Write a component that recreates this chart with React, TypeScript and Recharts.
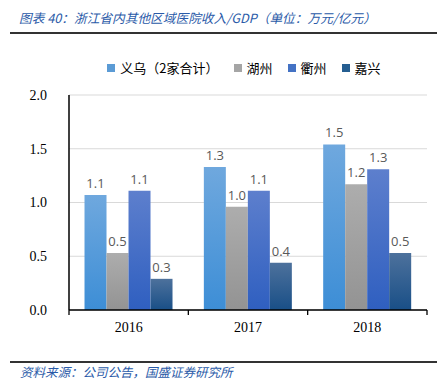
import React from 'react';
import { BarChart, Bar, XAxis, YAxis, CartesianGrid, Legend, LabelList } from 'recharts';

const years = ['2016', '2017', '2018'];
const yiwu = [1.07, 1.33, 1.54];
const huzhou = [0.53, 0.96, 1.17];
const quzhou = [1.11, 1.11, 1.31];
const jiaxing = [0.29, 0.44, 0.53];
const yTicks = [0, 0.5, 1.0, 1.5, 2.0];

const series = [
  { key: 'yiwu', name: '义乌（2家合计）', top: '#6fa8de', bottom: '#3d8ed6', swatch: '#5b9bd5' },
  { key: 'huzhou', name: '湖州', top: '#adadad', bottom: '#939393', swatch: '#a5a5a5' },
  { key: 'quzhou', name: '衢州', top: '#5d7fcd', bottom: '#2f5fc0', swatch: '#4472c4' },
  { key: 'jiaxing', name: '嘉兴', top: '#4d719c', bottom: '#194f87', swatch: '#255e91' },
];

const data = years.map((y, i) => ({
  year: y,
  yiwu: yiwu[i],
  huzhou: huzhou[i],
  quzhou: quzhou[i],
  jiaxing: jiaxing[i],
}));

const PLOT_LEFT = 69;
const PLOT_RIGHT = 427;
const BAND = (PLOT_RIGHT - PLOT_LEFT) / years.length;

const XTick = (props: any) => {
  const { x, y, payload, index } = props;
  return (
    <g>
      <line x1={x - BAND / 2} y1={y - 8} x2={x - BAND / 2} y2={y - 3} stroke="#000" strokeWidth={1.3} />
      {index === years.length - 1 && (
        <line x1={x + BAND / 2} y1={y - 8} x2={x + BAND / 2} y2={y - 3} stroke="#000" strokeWidth={1.3} />
      )}
      <text x={x} y={y + 14} textAnchor="middle" fontFamily="'Liberation Serif', serif" fontSize={14} fill="#000">
        {payload.value}
      </text>
    </g>
  );
};

const LegendContent = () => (
  <div style={{ display: 'flex', justifyContent: 'center', gap: 15, paddingLeft: 46, fontFamily: "'Noto Sans CJK SC', sans-serif", fontSize: 13, color: '#000' }}>
    {series.map(s => (
      <div key={s.key} style={{ display: 'flex', alignItems: 'center', gap: 5 }}>
        <div style={{ width: 8, height: 8, background: s.swatch }} />
        <span>{s.name}</span>
      </div>
    ))}
  </div>
);

const fmt = (v: any) => Number(v).toFixed(1);

export default function App() {
  return (
    <div style={{ position: 'absolute', left: 0, top: 0, width: 442, height: 385, background: '#fff' }}>
      <div style={{ position: 'absolute', left: 19, top: 8, fontFamily: "'Noto Sans CJK SC', sans-serif", fontStyle: 'italic', fontSize: 12.7, color: '#2a5aa8', whiteSpace: 'nowrap' }}>
        图表 40：浙江省内其他区域医院收入/GDP（单位：万元/亿元）
      </div>
      <div style={{ position: 'absolute', left: 10, top: 32, width: 427, height: 1.5, background: '#333' }} />
      <div style={{ position: 'absolute', left: 0, top: 0 }}>
        <BarChart
          width={442}
          height={345}
          data={data}
          margin={{ top: 76, right: 15, bottom: 5, left: 0 }}
          barCategoryGap="13%"
          barGap={0}
        >
          <defs>
            {series.map(s => (
              <linearGradient key={s.key} id={`g-${s.key}`} x1="0" y1="0" x2="0" y2="1">
                <stop offset="0%" stopColor={s.top} />
                <stop offset="100%" stopColor={s.bottom} />
              </linearGradient>
            ))}
          </defs>
          <CartesianGrid vertical={false} stroke="#d9d9d9" />
          <XAxis
            dataKey="year"
            axisLine={{ stroke: '#000', strokeWidth: 1.5 }}
            tickLine={false}
            tick={<XTick />}
            interval={0}
          />
          <YAxis
            width={69}
            domain={[0, 2]}
            ticks={yTicks}
            tickFormatter={fmt}
            axisLine={{ stroke: '#000', strokeWidth: 1.5 }}
            tickLine={false}
            tick={{ fontFamily: "'Liberation Serif', serif", fontSize: 14, fill: '#000' }}
            tickMargin={16}
          />
          <Legend
            verticalAlign="top"
            content={<LegendContent />}
            wrapperStyle={{ top: 58, left: 0, width: 442 }}
          />
          {series.map(s => (
            <Bar key={s.key} dataKey={s.key} name={s.name} fill={`url(#g-${s.key})`} isAnimationActive={false}>
              <LabelList
                dataKey={s.key}
                position="top"
                offset={7}
                formatter={fmt}
                style={{ fontFamily: "'Open Sans', sans-serif", fontSize: 13, fill: '#595959' }}
              />
            </Bar>
          ))}
        </BarChart>
      </div>
      <div style={{ position: 'absolute', left: 10, top: 361, width: 427, height: 1.5, background: '#333' }} />
      <div style={{ position: 'absolute', left: 20, top: 362, fontFamily: "'Noto Sans CJK SC', sans-serif", fontStyle: 'italic', fontSize: 12.5, color: '#2a5aa8', whiteSpace: 'nowrap' }}>
        资料来源：公司公告，国盛证券研究所
      </div>
    </div>
  );
}
